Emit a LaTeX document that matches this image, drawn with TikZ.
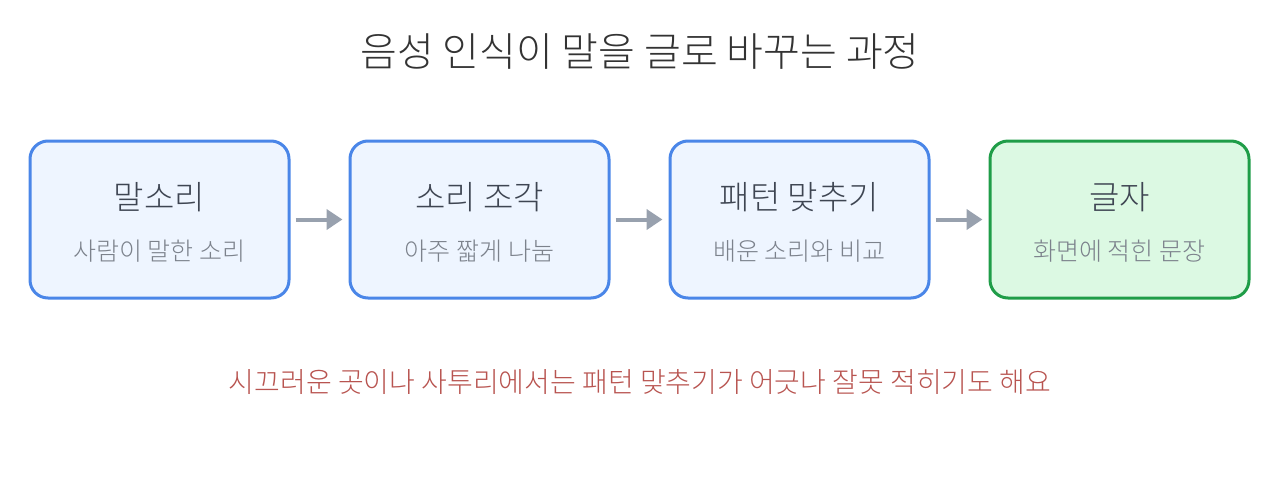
\documentclass[tikz,border=0pt]{standalone}
\usepackage{fontspec}
\setmainfont{Noto Sans CJK KR Light}
\usetikzlibrary{arrows.meta}
\definecolor{bluestroke}{HTML}{4A86E8}
\definecolor{bluefill}{HTML}{EEF5FF}
\definecolor{greenstroke}{HTML}{1F9D48}
\definecolor{greenfill}{HTML}{DCF9E3}
\definecolor{arrowgray}{HTML}{98A1AE}
\definecolor{titlegray}{HTML}{333333}
\definecolor{headgray}{HTML}{3E4552}
\definecolor{subgray}{HTML}{7C828C}
\definecolor{notered}{HTML}{B85450}
\tikzset{
  stagebox/.style={draw=bluestroke, fill=bluefill, line width=3pt, rounded corners=18pt, minimum width=259pt, minimum height=157pt, inner sep=0pt},
  donebox/.style={stagebox, draw=greenstroke, fill=greenfill},
  headtxt/.style={font=\fontsize{33pt}{36pt}\selectfont, text=headgray, inner sep=0pt},
  subtxt/.style={font=\fontsize{25pt}{28pt}\selectfont, text=subgray, inner sep=0pt},
  flow/.style={draw=arrowgray, line width=4pt, -{Triangle[length=16pt,width=20pt]}, shorten <=5pt, shorten >=6pt}
}
\begin{document}
\begin{tikzpicture}[x=1pt,y=-1pt]
\useasboundingbox (0,0) rectangle (1280,480);
\node[font=\fontsize{40pt}{44pt}\selectfont, text=titlegray, inner sep=0pt] (title) at (640,52) {음성 인식이 말을 글로 바꾸는 과정};

\node[stagebox] (b1) at (159.5,219.5) {};
\node[stagebox] (b2) at (479.5,219.5) {};
\node[stagebox] (b3) at (799.5,219.5) {};
\node[donebox] (b4) at (1119.5,219.5) {};

\node[headtxt] (h1) at (159.5,197) {말소리};
\node[subtxt] (s1) at (159.5,251) {사람이 말한 소리};
\node[headtxt] (h2) at (479.5,197) {소리 조각};
\node[subtxt] (s2) at (479.5,251) {아주 짧게 나눔};
\node[headtxt] (h3) at (799.5,197) {패턴 맞추기};
\node[subtxt] (s3) at (799.5,251) {배운 소리와 비교};
\node[headtxt] (h4) at (1119.5,197) {글자};
\node[subtxt] (s4) at (1119.5,251) {화면에 적힌 문장};

\draw[flow] (b1.east) -- (b2.west);
\draw[flow] (b2.east) -- (b3.west);
\draw[flow] (b3.east) -- (b4.west);

\node[font=\fontsize{28pt}{32pt}\selectfont, text=notered, inner sep=0pt] (note) at (640,382) {시끄러운 곳이나 사투리에서는 패턴 맞추기가 어긋나 잘못 적히기도 해요};
\end{tikzpicture}
\end{document}
